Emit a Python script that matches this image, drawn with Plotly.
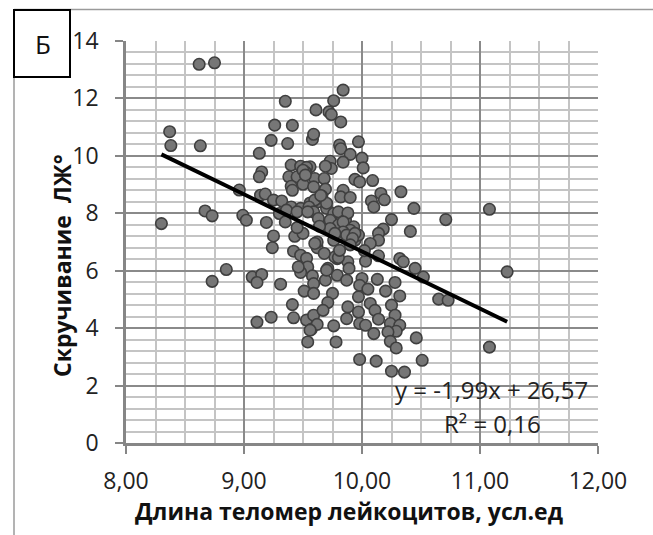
import plotly.graph_objects as go

# Telomere length (x) and LV twist (y)
telomere = [8.62, 8.75, 9.35, 8.37, 8.38, 8.63, 9.61, 9.72, 9.74, 9.76,
            9.84, 9.82, 9.26, 9.41, 9.23, 9.37, 9.58, 9.59, 9.13, 9.81,
            9.82, 9.97, 9.90, 10.00, 10.01, 9.73, 9.74, 9.84, 9.69, 9.56,
            9.15, 9.13, 9.40, 9.48, 9.53, 9.52, 9.38, 9.45, 9.60, 9.68,
            9.40, 9.50, 9.59, 9.41, 9.69, 9.94, 9.98, 10.09, 9.84, 9.82,
            9.90, 10.16, 10.08, 10.19, 10.10, 10.33, 10.44, 8.96, 9.14, 9.18,
            9.25, 9.32, 9.40, 9.48, 9.56, 9.63, 9.56, 9.60, 9.55, 9.59,
            9.63, 9.70, 9.76, 9.80, 9.73, 9.80, 9.86, 9.88, 9.84, 9.93,
            10.25, 10.18, 10.41, 8.67, 8.73, 8.99, 9.02, 9.19, 8.30, 9.30,
            9.36, 9.45, 9.54, 9.25, 9.24, 9.43, 9.42, 9.48, 9.53, 9.54,
            9.48, 9.58, 9.59, 9.51, 9.59, 9.62, 8.85, 8.73, 9.07, 9.15,
            9.11, 9.31, 9.41, 9.42, 9.23, 9.11, 9.53, 9.59, 9.57, 9.62,
            9.54, 10.14, 10.14, 10.07, 9.94, 9.97, 9.90, 9.76, 9.80, 9.73,
            9.84, 10.14, 10.03, 10.32, 10.35, 10.45, 10.52, 9.79, 9.88, 9.89,
            9.71, 9.69, 9.79, 9.87, 10.00, 10.13, 10.28, 10.20, 10.32, 9.98,
            10.05, 9.97, 9.75, 9.71, 9.67, 10.07, 10.11, 10.14, 9.88, 9.97,
            9.98, 10.03, 9.87, 10.25, 10.28, 10.24, 10.32, 10.29, 10.22, 9.56,
            9.76, 10.10, 10.24, 10.29, 9.78, 10.46, 9.98, 10.12, 10.51, 10.25,
            10.36, 11.08, 10.71, 11.23, 10.65, 10.73, 11.08, 9.70, 9.46, 9.77,
            9.80, 9.81, 9.87, 9.77, 9.94, 9.92, 9.50, 9.52, 9.66, 9.64,
            9.50, 9.62, 9.68, 9.45, 9.35, 9.90, 10.02, 9.60, 9.70, 9.65]
twist = [13.19, 13.24, 11.90, 10.84, 10.36, 10.35, 11.60, 11.53, 11.44, 11.92,
         12.29, 11.18, 11.07, 11.06, 10.54, 10.43, 10.57, 10.75, 10.09, 10.38,
         10.25, 10.49, 10.05, 9.92, 9.58, 9.81, 9.56, 9.78, 9.64, 9.62,
         9.44, 9.27, 9.68, 9.64, 9.60, 9.44, 9.27, 9.27, 9.21, 9.21,
         8.94, 9.01, 8.92, 8.80, 8.84, 9.18, 9.09, 9.14, 8.80, 8.57,
         8.55, 8.69, 8.43, 8.47, 8.22, 8.75, 8.17, 8.81, 8.63, 8.67,
         8.46, 8.43, 8.22, 8.17, 8.28, 8.40, 8.36, 8.46, 8.22, 8.05,
         7.82, 8.17, 7.99, 8.05, 7.76, 7.59, 7.76, 8.01, 7.70, 7.53,
         7.78, 7.45, 7.37, 8.08, 7.91, 7.93, 7.76, 7.68, 7.64, 7.99,
         8.11, 8.05, 8.05, 7.21, 6.80, 7.20, 6.68, 6.54, 6.43, 6.13,
         5.94, 5.82, 5.55, 5.29, 5.21, 6.80, 6.04, 5.63, 5.78, 5.87,
         5.59, 5.53, 4.82, 4.36, 4.38, 4.21, 4.28, 4.45, 3.96, 4.13,
         3.52, 7.30, 7.06, 6.95, 7.06, 7.24, 7.41, 7.06, 7.24, 7.47,
         7.35, 6.52, 6.33, 6.42, 6.31, 6.08, 5.78, 6.42, 6.31, 6.08,
         6.08, 5.67, 5.84, 5.67, 5.73, 5.70, 5.59, 5.29, 5.12, 5.49,
         5.36, 5.09, 5.21, 4.89, 4.62, 4.86, 4.62, 4.31, 4.74, 4.56,
         4.16, 4.10, 4.33, 4.80, 4.45, 4.16, 4.10, 3.89, 3.87, 3.93,
         4.08, 3.81, 3.54, 3.31, 3.52, 3.66, 2.91, 2.85, 2.88, 2.50,
         2.47, 8.14, 7.78, 5.96, 5.01, 4.97, 3.34, 6.02, 6.13, 6.48,
         6.46, 6.71, 7.24, 7.30, 7.30, 7.12, 9.50, 9.33, 8.60, 7.55,
         7.30, 7.00, 6.60, 7.50, 7.70, 6.90, 6.70, 6.95, 8.35, 8.62]

slope = -1.99
intercept = 26.57
equation_text = "y = -1,99x + 26,57"
r2_text = "R² = 0,16"
panel_label = "Б"
x_title = "Длина теломер лейкоцитов, усл.ед"
y_title = "Скручивание  ЛЖ°"

W, H = 653, 535
L, R, T, B = 126, 55, 41, 92
PW, PH = W - L - R, H - T - B


def px(xp):
    return (xp - L) / PW


def py(yp):
    return (H - B - yp) / PH


fig = go.Figure()

fig.add_trace(go.Scatter(
    x=telomere, y=twist, mode="markers",
    marker=dict(size=11.5, color="#767676", line=dict(color="#3f3f3f", width=1.6)),
    showlegend=False, hoverinfo="x+y"))

x0, x1 = min(telomere), max(telomere)
fig.add_trace(go.Scatter(
    x=[x0, x1], y=[slope * x0 + intercept, slope * x1 + intercept],
    mode="lines", line=dict(color="black", width=4), showlegend=False,
    hoverinfo="skip"))

font_main = "Open Sans, Liberation Sans, sans-serif"

fig.update_layout(
    width=W, height=H, autosize=False,
    margin=dict(l=L, r=R, t=T, b=B, pad=0),
    paper_bgcolor="white", plot_bgcolor="white",
    separators=", ",
    font=dict(family=font_main, size=23, color="#222222"),
    xaxis=dict(
        range=[8, 12], dtick=1, tick0=8, tickformat=".2f",
        showgrid=True, gridcolor="#8a8a8a", gridwidth=1.6,
        minor=dict(dtick=0.25, showgrid=True, gridcolor="#c4c4c4", gridwidth=1.6),
        showline=True, linecolor="#868686", linewidth=2.5,
        ticks="outside", ticklen=8, tickwidth=1.6, tickcolor="#868686",
        ticklabelstandoff=8, zeroline=False, fixedrange=True),
    yaxis=dict(
        range=[0, 14], dtick=2, tick0=0,
        showgrid=True, gridcolor="#8a8a8a", gridwidth=1.6,
        minor=dict(dtick=0.4, showgrid=True, gridcolor="#c4c4c4", gridwidth=1.6),
        showline=True, linecolor="#868686", linewidth=2.5,
        ticks="outside", ticklen=8, tickwidth=1.6, tickcolor="#868686",
        ticklabelstandoff=12, zeroline=False, fixedrange=True),
)

ann_font = dict(family=font_main, size=24, color="#222222")
fig.add_annotation(x=px(491), y=py(389), xref="paper", yref="paper",
                   text=equation_text, showarrow=False, font=ann_font,
                   xanchor="center", yanchor="middle")
fig.add_annotation(x=px(492), y=py(423), xref="paper", yref="paper",
                   text=r2_text, showarrow=False, font=ann_font,
                   xanchor="center", yanchor="middle")

fig.add_annotation(x=px(349), y=py(511), xref="paper", yref="paper",
                   text="<b>" + x_title + "</b>", showarrow=False,
                   font=dict(family=font_main, size=23, color="#111111"),
                   xanchor="center", yanchor="middle")
fig.add_annotation(x=px(62), y=py(266), xref="paper", yref="paper",
                   text="<b>" + y_title + "</b>", showarrow=False, textangle=-90,
                   font=dict(family=font_main, size=23, color="#111111"),
                   xanchor="center", yanchor="middle")

# outer chart border (top and left visible)
fig.add_shape(type="line", xref="paper", yref="paper",
              x0=px(14), y0=py(9.5), x1=px(660), y1=py(9.5),
              line=dict(color="#9a9a9a", width=1.5))
fig.add_shape(type="line", xref="paper", yref="paper",
              x0=px(14), y0=py(9.5), x1=px(14), y1=py(540),
              line=dict(color="#9a9a9a", width=1.5))
# panel label box
fig.add_shape(type="rect", xref="paper", yref="paper",
              x0=px(14), y0=py(77), x1=px(70), y1=py(10),
              line=dict(color="black", width=2), fillcolor="white")
fig.add_annotation(x=px(43), y=py(44), xref="paper", yref="paper",
                   text=panel_label, showarrow=False,
                   font=dict(family=font_main, size=26, color="#111111"),
                   xanchor="center", yanchor="middle")

fig.write_html(
    "out.html",
    config={"displayModeBar": False},
    post_script="document.body.style.margin='0';document.body.style.overflow='hidden';",
)
